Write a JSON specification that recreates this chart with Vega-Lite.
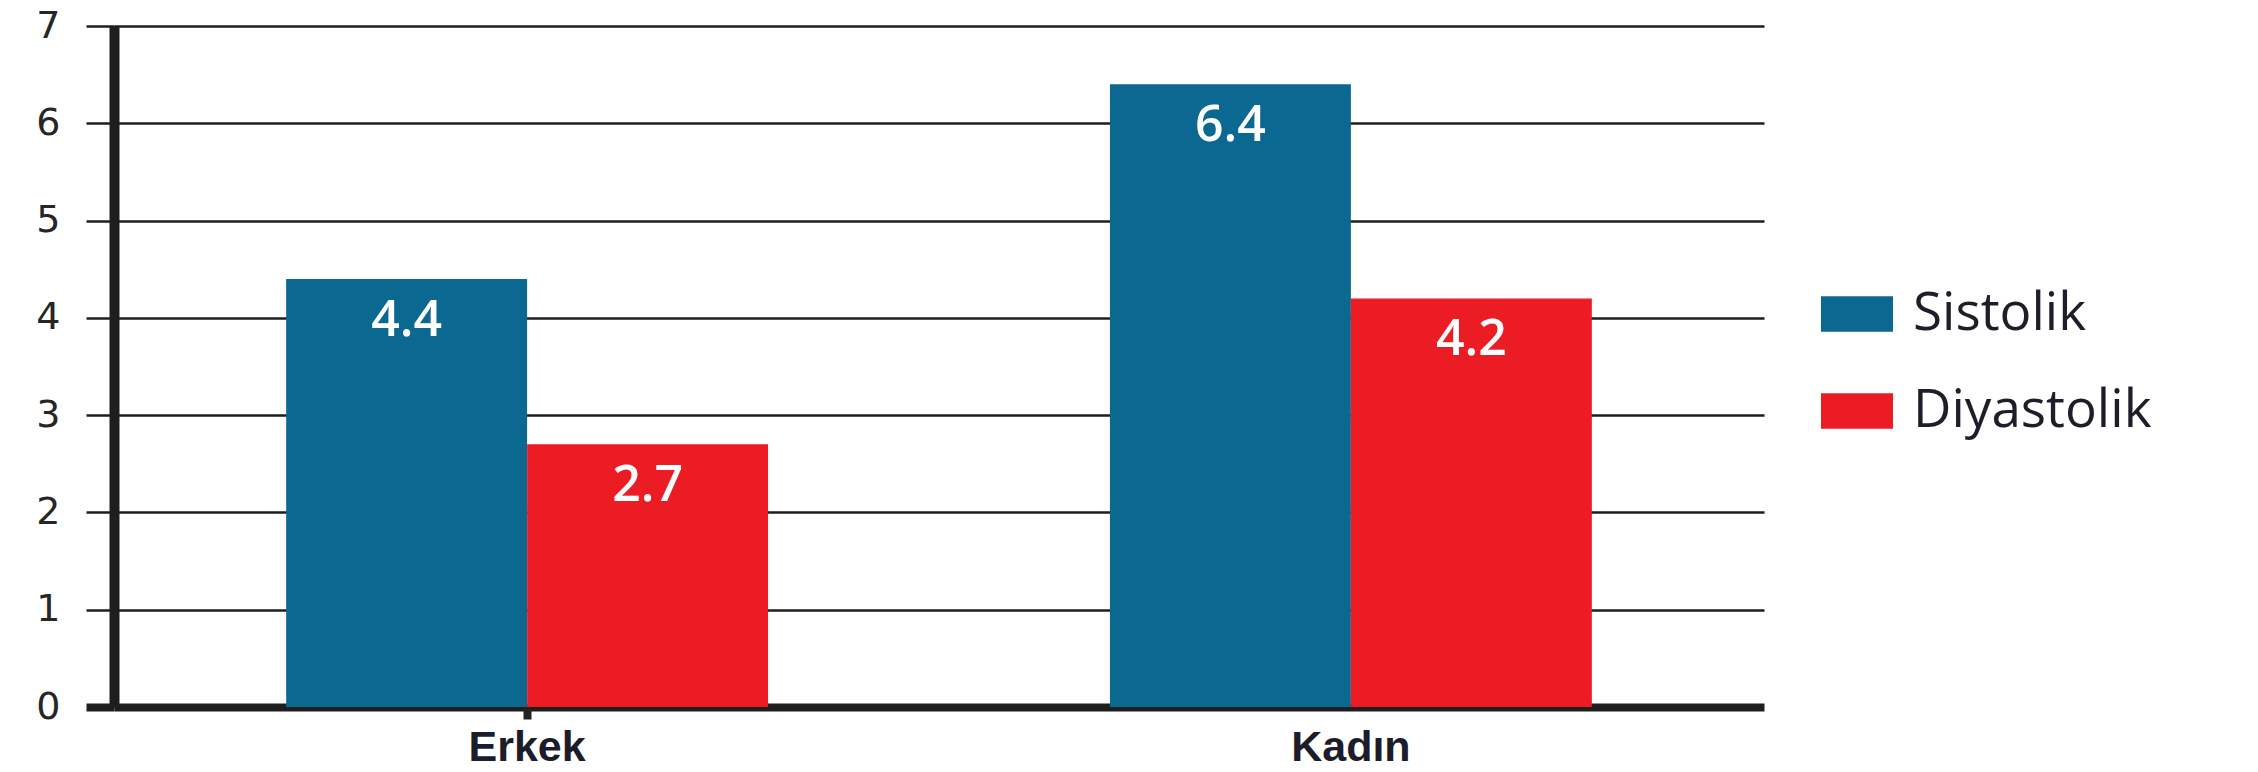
{
  "$schema": "https://vega.github.io/schema/vega-lite/v6.json",
  "width": 1650,
  "height": 681,
  "autosize": {"type": "none"},
  "padding": {"left": 114, "top": 26, "right": 494, "bottom": 65},
  "background": "white",
  "config": {"view": {"stroke": null}},
  "data": {
    "values": [
      {"group": "Erkek", "type": "Sistolik", "value": 4.4},
      {"group": "Erkek", "type": "Diyastolik", "value": 2.7},
      {"group": "Kadın", "type": "Sistolik", "value": 6.4},
      {"group": "Kadın", "type": "Diyastolik", "value": 4.2}
    ]
  },
  "encoding": {
    "x": {
      "field": "group",
      "type": "nominal",
      "sort": ["Erkek", "Kadın"],
      "scale": {"paddingInner": 0.415, "paddingOuter": 0.209},
      "axis": {
        "title": null,
        "labelAngle": 0,
        "labelFont": "Liberation Sans",
        "labelFontWeight": "bold",
        "labelFontSize": 43,
        "labelColor": "#1c1c2a",
        "labelPadding": 7,
        "domain": false,
        "ticks": true,
        "tickSize": 12,
        "tickWidth": 8,
        "tickColor": "#222222",
        "tickOpacity": {"condition": {"test": "datum.value === 'Erkek'", "value": 1}, "value": 0},
        "grid": false
      }
    },
    "xOffset": {"field": "type", "sort": ["Sistolik", "Diyastolik"]},
    "y": {
      "field": "value",
      "type": "quantitative",
      "scale": {"domain": [0, 7], "nice": false},
      "axis": {
        "title": null,
        "values": [0, 1, 2, 3, 4, 5, 6, 7],
        "grid": true,
        "gridColor": "#1e1e1e",
        "gridOpacity": 1,
        "gridWidth": {"condition": {"test": "datum.value === 0", "value": 8}, "value": 2.5},
        "domain": true,
        "domainColor": "#1e1e1e",
        "domainWidth": 10,
        "ticks": true,
        "tickSize": 28,
        "tickColor": "#1e1e1e",
        "tickWidth": {"condition": {"test": "datum.value === 0", "value": 8}, "value": 2.5},
        "labelFont": "DejaVu Sans",
        "labelFontSize": 38,
        "labelColor": "#262626",
        "labelPadding": 26
      }
    }
  },
  "layer": [
    {
      "mark": {"type": "bar"},
      "encoding": {
        "color": {
          "field": "type",
          "type": "nominal",
          "sort": ["Sistolik", "Diyastolik"],
          "scale": {"domain": ["Sistolik", "Diyastolik"], "range": ["#0b6891", "#ec1c24"]},
          "legend": {
            "title": null,
            "orient": "none",
            "legendX": 1707,
            "legendY": 252,
            "padding": 0,
            "symbolType": "M-1,-0.49H1V0.49H-1Z",
            "symbolSize": 5184,
            "symbolStrokeWidth": 0,
            "symbolOpacity": 1,
            "rowPadding": 34,
            "labelOffset": 20,
            "labelFont": "Open Sans",
            "labelFontSize": 53,
            "labelColor": "#1e1e2a",
            "labelLimit": 400
          }
        }
      }
    },
    {
      "mark": {
        "type": "text",
        "baseline": "middle",
        "dy": 42,
        "color": "white",
        "font": "Open Sans",
        "fontWeight": 600,
        "fontSize": 50
      },
      "encoding": {
        "text": {"field": "value", "type": "quantitative", "format": ".1f"}
      }
    }
  ]
}
